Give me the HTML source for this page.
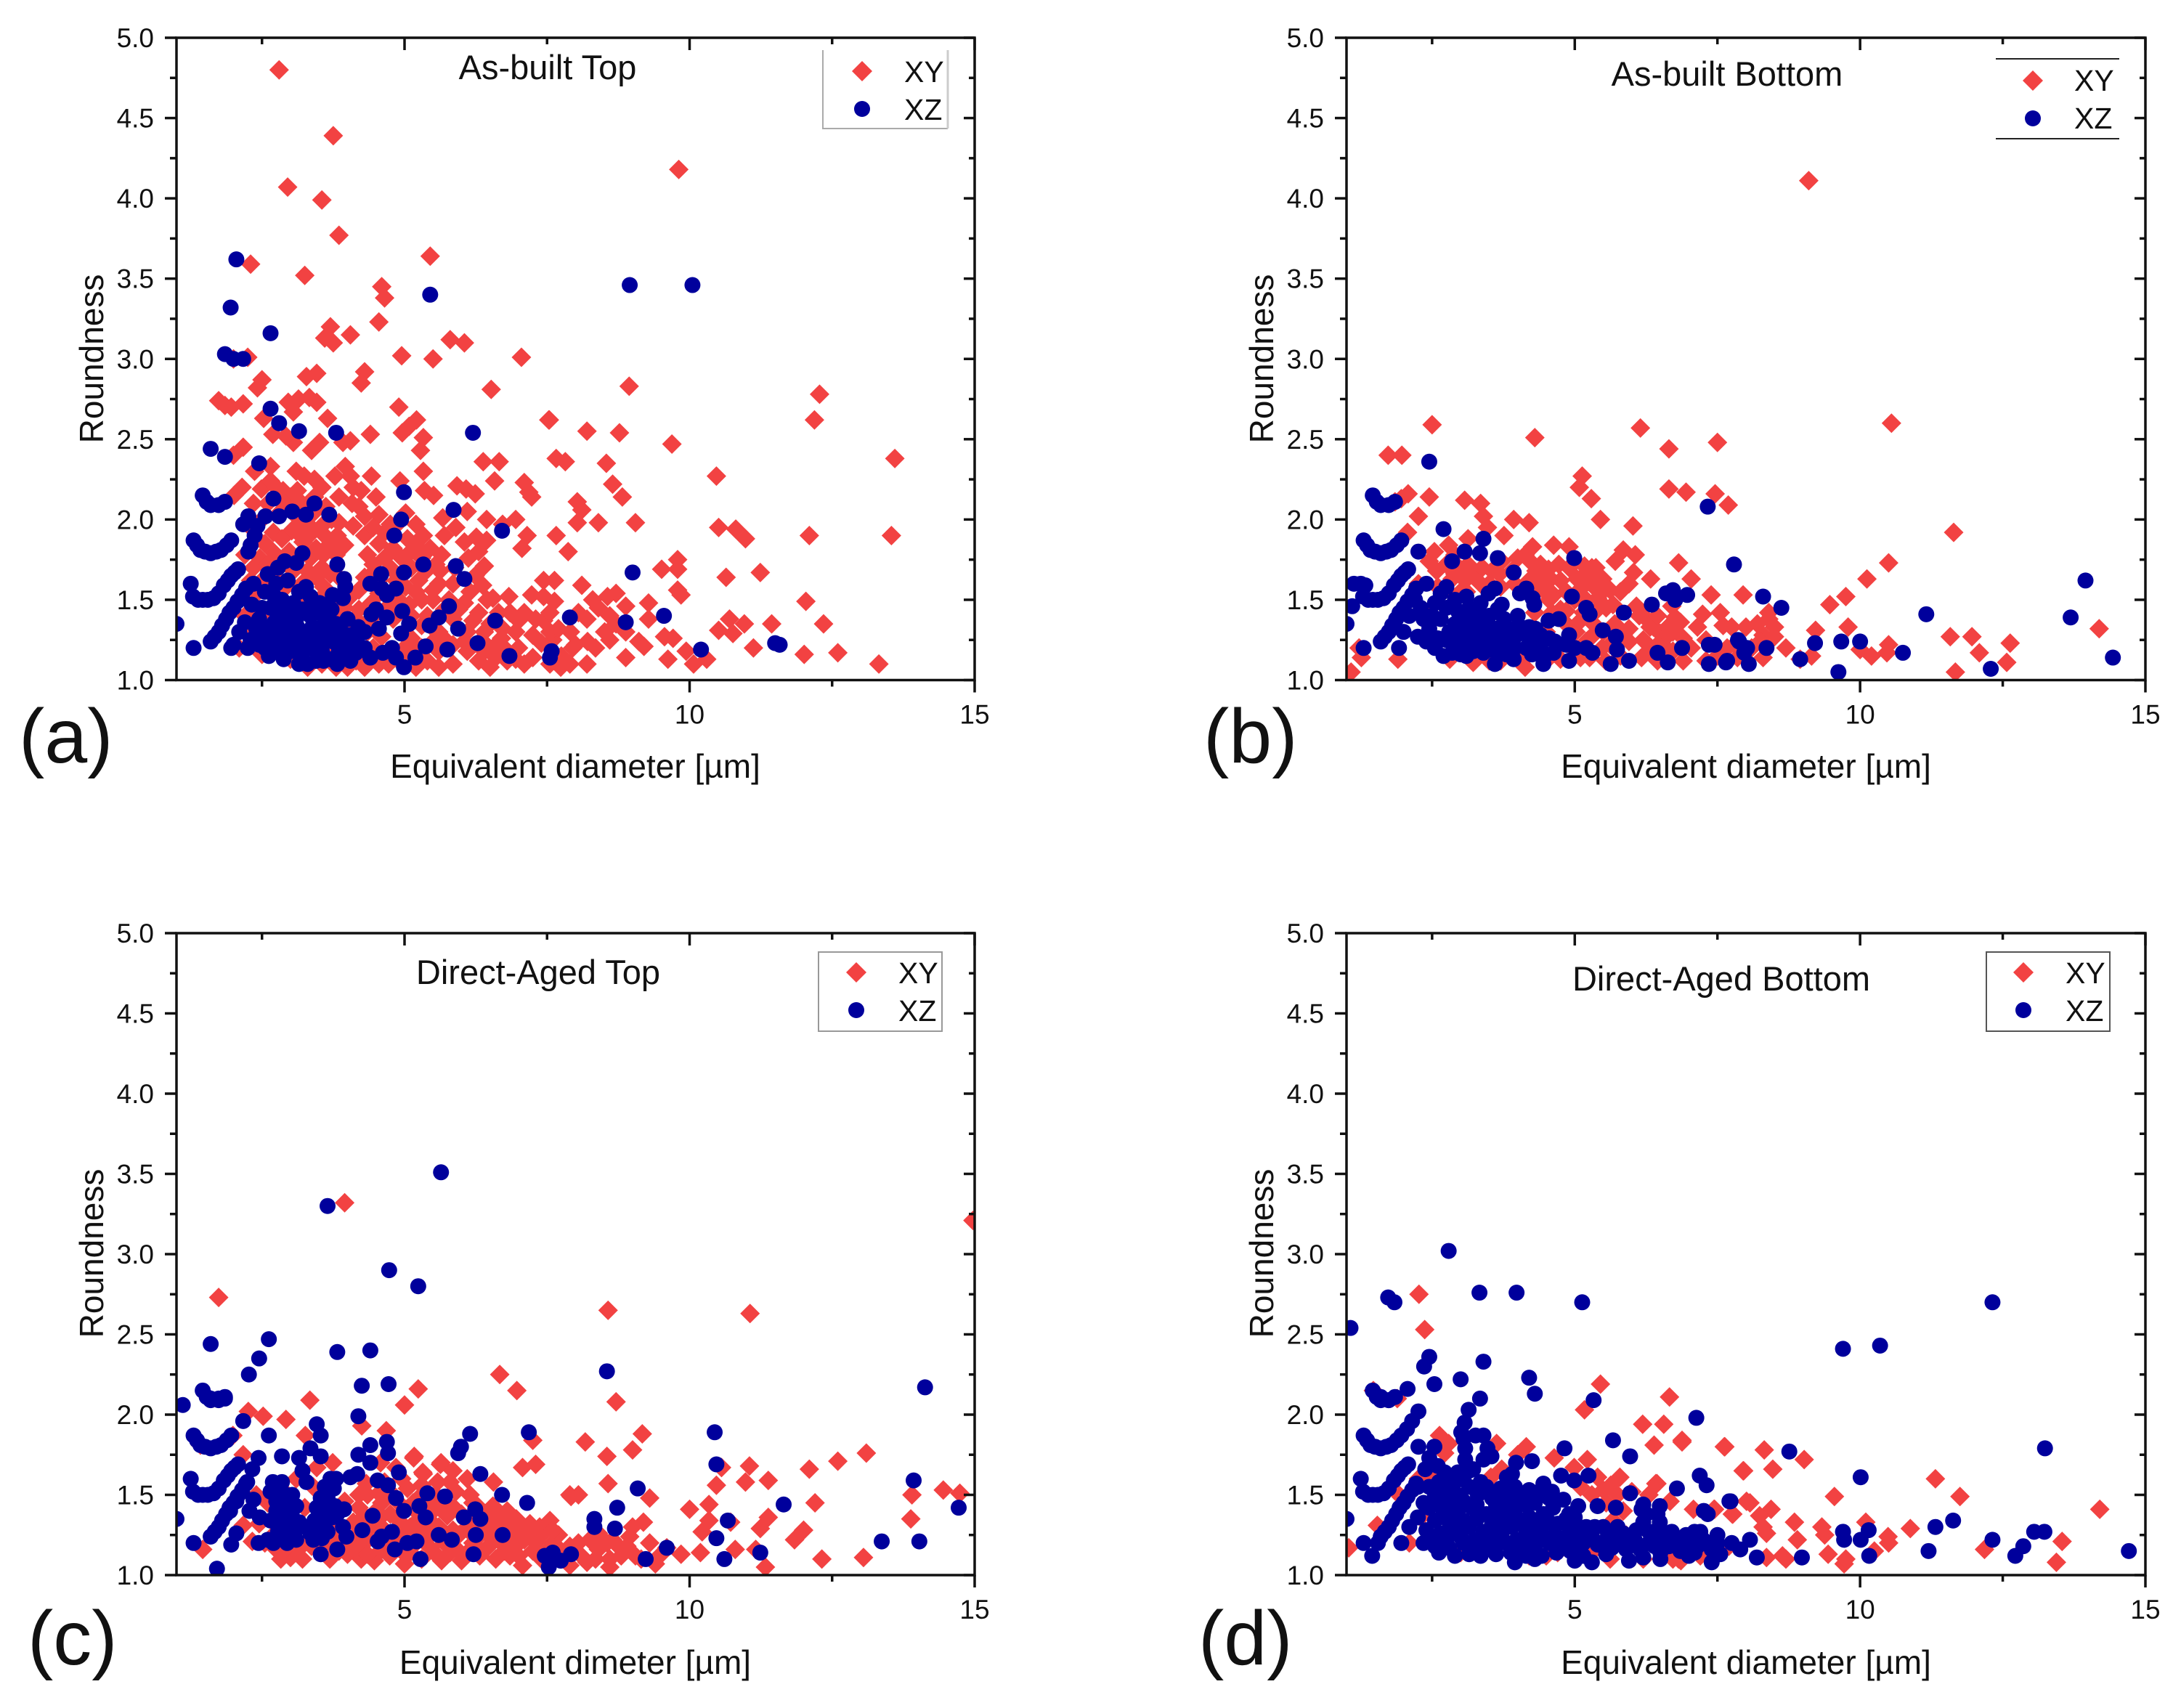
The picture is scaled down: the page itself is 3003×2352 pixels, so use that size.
<!DOCTYPE html>
<html lang="en">
<head>
<meta charset="utf-8">
<title>Roundness vs equivalent diameter</title>
<style>
html,body{margin:0;padding:0;background:#fff}
svg{display:block}
text{font-family:"Liberation Sans",sans-serif;fill:#111}
.title{font-size:47px;text-anchor:middle}
.axt{font-size:46px;text-anchor:middle}
.lg{font-size:41px}
.pl{font-size:106px}
.tk{font-size:37px}
</style>
</head>
<body>
<svg id="fig" xmlns="http://www.w3.org/2000/svg" width="3003" height="2352" viewBox="0 0 3003 2352">
<rect width="3003" height="2352" fill="#fff"/>
<defs>
<clipPath id="clip-a"><rect x="243" y="52" width="1099" height="884.5"/></clipPath>
<clipPath id="clip-b"><rect x="1854" y="52" width="1100" height="884.5"/></clipPath>
<clipPath id="clip-c"><rect x="243" y="1285" width="1099" height="884"/></clipPath>
<clipPath id="clip-d"><rect x="1854" y="1285" width="1100" height="884"/></clipPath>
</defs>
<g id="panel-a"></g>
<g id="panel-b"></g>
<g id="panel-c"></g>
<g id="panel-d"></g>

<text class="title" x="754" y="109">As-built Top</text>
<text class="title" x="2378" y="118">As-built Bottom</text>
<text class="title" x="741" y="1355">Direct-Aged Top</text>
<text class="title" x="2370" y="1364">Direct-Aged Bottom</text>

<text class="axt" x="792" y="1071">Equivalent diameter [µm]</text>
<text class="axt" x="2404" y="1071">Equivalent diameter [µm]</text>
<text class="axt" x="792" y="2305">Equivalent dimeter [µm]</text>
<text class="axt" x="2404" y="2305">Equivalent diameter [µm]</text>

<text class="axt" transform="translate(142,494) rotate(-90)">Roundness</text>
<text class="axt" transform="translate(1753,494) rotate(-90)">Roundness</text>
<text class="axt" transform="translate(142,1726) rotate(-90)">Roundness</text>
<text class="axt" transform="translate(1753,1726) rotate(-90)">Roundness</text>

<text class="pl" x="26" y="1050">(a)</text>
<text class="pl" x="1657" y="1050">(b)</text>
<text class="pl" x="38" y="2292">(c)</text>
<text class="pl" x="1650" y="2292">(d)</text>

<g>
<path d="M1133 69V177H1305" fill="none" stroke="#aaa" stroke-width="2"/>
<path d="M1305 69V177" fill="none" stroke="#ccc" stroke-width="3"/>
<path d="M1187 84l14 14l-14 14l-14-14z" fill="#f24242"/>
<circle cx="1187" cy="150" r="11" fill="#00009c"/>
<text class="lg" x="1245" y="113">XY</text>
<text class="lg" x="1245" y="165">XZ</text>
</g>
<g>
<path d="M2748 81H2918M2748 191H2918" fill="none" stroke="#222" stroke-width="2"/>
<path d="M2799 97l14 14l-14 14l-14-14z" fill="#f24242"/>
<circle cx="2799" cy="163" r="11" fill="#00009c"/>
<text class="lg" x="2856" y="125">XY</text>
<text class="lg" x="2856" y="177">XZ</text>
</g>
<g>
<rect x="1127" y="1311" width="170" height="109" fill="#fff" stroke="#999" stroke-width="2"/>
<path d="M1179 1325l14 14l-14 14l-14-14z" fill="#f24242"/>
<circle cx="1179" cy="1391" r="11" fill="#00009c"/>
<text class="lg" x="1237" y="1354">XY</text>
<text class="lg" x="1237" y="1406">XZ</text>
</g>
<g>
<rect x="2735" y="1311" width="170" height="109" fill="#fff" stroke="#555" stroke-width="2"/>
<path d="M2786 1325l14 14l-14 14l-14-14z" fill="#f24242"/>
<circle cx="2786" cy="1391" r="11" fill="#00009c"/>
<text class="lg" x="2844" y="1354">XY</text>
<text class="lg" x="2844" y="1406">XZ</text>
</g>
</svg>
<script>
// ---- axis labels ----
const xMajorTicks = [5, 10, 15];
const xMinorTicks = [2.5, 7.5, 12.5];
const yMajorTicks = [1.0, 1.5, 2.0, 2.5, 3.0, 3.5, 4.0, 4.5, 5.0];
const yMinorTicks = [1.25, 1.75, 2.25, 2.75, 3.25, 3.75, 4.25, 4.75];

// ---- low-diameter arcs of XZ points, common to every panel ----
const lowArcXZ = [[1.0,1.35],[1.25,1.6],[1.3,1.2],
[1.29,1.52],[1.38,1.5],[1.46,1.5],[1.55,1.5],[1.65,1.51],[1.74,1.54],[1.83,1.59],[1.9,1.62],[1.96,1.65],[2.02,1.67],[2.08,1.69],
[1.3,1.87],[1.36,1.84],[1.42,1.81],[1.5,1.8],[1.6,1.79],[1.7,1.8],[1.78,1.81],[1.88,1.84],[1.96,1.87],
[1.46,2.15],[1.53,2.11],[1.6,2.09],[1.74,2.09],[1.85,2.11],
[1.6,1.24],[1.67,1.27],[1.74,1.3],[1.8,1.34],[1.87,1.38],[1.93,1.42],[2.0,1.45],[2.07,1.49],[2.15,1.53],[2.22,1.57]];

// ---- panel (a) As-built Top ----
const topXY = [[2.8,4.8],[3.75,4.39],[2.95,4.07],[3.55,3.99],[3.85,3.77],[9.81,4.18],[5.45,3.64],[2.3,3.59],[3.25,3.52],[4.6,3.45],[4.65,3.38],[4.55,3.23],[3.7,3.2],[3.6,3.13],[3.75,3.1],[4.05,3.15],[5.8,3.12],[6.05,3.1],[5.5,3.0],[4.95,3.02],[7.05,3.01],[2.25,3.01],[2.0,3.0],
[8.94,2.83],[6.52,2.81],[12.28,2.78],[12.19,2.62],[13.6,2.38],[13.54,1.9],[12.1,1.9],[10.47,2.27],[10.51,1.95],[10.81,1.94],[10.98,1.88],[9.69,2.47],[8.77,2.54],[8.2,2.55],[7.54,2.62],[7.66,2.38],[7.82,2.36],[8.54,2.35],[8.65,2.22],[8.82,2.14],[9.05,1.98],[8.4,1.98],[8.03,2.11],[8.11,2.06],[8.03,1.98],[7.66,1.9],[7.87,1.8],[10.64,1.64],[11.24,1.67],[12.04,1.49],[12.35,1.35],[11.44,1.35],[10.96,1.35],[10.7,1.38],[10.51,1.31],[10.76,1.29],[11.12,1.2],[12.6,1.17],[12.01,1.16],[13.32,1.1],[9.79,1.75],[9.51,1.69],[9.79,1.69],[9.79,1.56],[9.85,1.53],[9.28,1.48],[9.28,1.38],[9.11,1.24],[9.2,1.21],[9.56,1.27],[9.71,1.26],[9.62,1.13],[9.94,1.18],[10.07,1.1],[10.3,1.13],[8.88,1.14],[8.2,1.1],[7.74,1.08],[8.21,1.24],[8.51,1.3],[7.91,1.3],[8.11,1.59],[8.56,1.52],[8.71,1.54],[8.88,1.46],[8.6,1.4],[8.71,1.35],[8.88,1.3],[7.63,1.62],[7.44,1.62],[7.23,1.53],[7.44,1.52],[7.63,1.49],[7.44,1.37],[7.4,1.23],[6.83,1.52],[6.55,1.51],[7.06,1.82],[7.15,1.9],[6.95,2.0],[6.72,1.97],[6.44,2.0],[6.38,2.36],[6.66,2.36],[6.58,2.24],[7.1,2.23],[7.18,2.17],[7.23,2.14],[8.05,1.42],[7.95,1.2],[7.6,1.25],[8.4,1.45],[8.2,1.38],[7.1,1.42],[7.25,1.28],[7.0,1.2],[7.25,1.14],[7.75,1.15],[7.55,1.3],
[2.5,2.87],[2.42,2.82],[3.28,2.89],[3.46,2.91],[4.3,2.92],[4.24,2.85],[1.74,2.74],[1.85,2.71],[1.96,2.7],[2.17,2.72],[2.96,2.73],[3.14,2.75],[3.33,2.76],[3.46,2.73],[3.05,2.67],[4.9,2.7],[5.21,2.62],[5.08,2.58],[4.96,2.54],[3.65,2.63],[2.53,2.63],[2.69,2.53],[3.05,2.48],[2.92,2.52],[3.51,2.48],[3.37,2.43],[4.05,2.49],[3.92,2.48],[4.4,2.53],[5.33,2.51],[5.28,2.43],[7.53,2.62],[2.17,2.45],[2.0,2.4],[2.37,2.3],[2.65,2.33],[2.15,2.2],[2.01,2.15],[2.49,2.19],[2.65,2.24],[2.87,2.18],[3.1,2.3],[3.24,2.27],[3.42,2.25],[3.78,2.27],[3.96,2.33],[4.05,2.27],[4.42,2.27],[4.24,2.18],[4.92,2.24],[5.33,2.3],[5.35,2.18],[5.51,2.15],[5.92,2.21],[6.08,2.19],[6.24,2.16],[6.1,2.05],[5.67,2.01],[6.05,1.86],[6.26,1.89],[6.44,1.87],[6.4,1.71],[6.24,1.65],[6.37,1.59],[5.33,1.9],[4.9,1.98],[5.02,2.04],[5.2,1.97],
[2.6,2.1],[2.8,2.04],[3.0,2.14],[3.2,2.1],[3.42,2.14],[3.62,2.08],[3.85,2.14],[4.08,2.1],[4.3,2.02],[4.55,2.03],[4.75,1.97],[3.85,1.98],[4.1,1.96],[3.55,1.96],[3.28,1.98],[3.02,1.93],[2.7,1.92],[2.42,1.88],[2.2,1.78],[2.46,1.76],[2.72,1.79],[2.98,1.8],[3.22,1.86],[3.45,1.82],[3.7,1.85],[3.95,1.84],[4.3,1.9],[4.55,1.85],[4.8,1.82],[5.05,1.78],[5.3,1.76],[5.55,1.72],[5.85,1.6],[5.6,1.6],[4.65,1.76],[4.35,1.78],[3.55,1.7],[3.3,1.68],[3.05,1.68],[2.8,1.62],[2.5,1.62],[2.3,1.62],[3.58,1.58],[3.85,1.64],[4.2,1.56],[4.45,1.67],[4.75,1.7],[5.02,1.58],[5.25,1.62],[5.5,1.5],[5.78,1.5],[6.05,1.48],[6.3,1.42],[6.5,1.35],[6.72,1.32],[6.95,1.3],[5.3,1.5],[5.08,1.47],[4.72,1.46],[4.42,1.48],[4.2,1.44],[3.95,1.45],[4.35,1.3],[4.6,1.27],[4.8,1.38],[5.12,1.26],[5.4,1.4],[5.6,1.3],[5.85,1.38],[6.1,1.3],[6.35,1.25],[6.55,1.2],[6.75,1.2],[5.3,1.2],[5.6,1.18],[5.85,1.22],[6.1,1.18],[6.3,1.12],[6.5,1.08],[6.8,1.12],[5.2,1.08],[5.6,1.08],[5.85,1.1],[5.4,1.12],[4.55,1.1],[4.3,1.08],[4.0,1.08],[3.55,1.1],[3.0,1.13],[2.5,1.16],[2.1,1.2],[2.3,1.32],[4.9,1.12],[4.45,1.2],[4.1,1.22],[3.75,1.4],[5.0,1.2]];
const topXYmass = [[2.35,2.1],[2.75,2.2],[3.12,2.18],[3.55,2.2],[4.1,2.2],[4.5,2.14],[2.5,2.0],[2.9,2.1],[3.1,2.02],[3.4,2.04],[3.72,2.0],[4.2,2.08],[4.65,1.92],[2.3,1.95],[2.55,1.85],[2.85,1.88],[3.12,1.92],[3.38,1.92],[3.6,1.9],[3.82,1.9],[4.45,1.95],[5.05,1.88],[2.35,1.7],[2.6,1.72],[2.85,1.72],[3.1,1.76],[3.35,1.76],[3.58,1.78],[3.8,1.78],[4.45,1.72],[4.55,1.62],[2.35,1.52],[2.62,1.56],[2.92,1.58],[3.2,1.6],[3.45,1.64],[3.7,1.66],[4.05,1.52],[4.3,1.64],[4.55,1.54],[4.85,1.62],[5.12,1.7],[5.38,1.68],[5.62,1.68],[5.88,1.7],[6.12,1.76],[6.3,1.8],[4.95,1.76],[5.2,1.84],[5.45,1.82],[5.7,1.9],[5.9,1.95],[5.65,1.78],[6.15,1.55],[6.45,1.5],[5.95,1.44],[5.7,1.44],[5.5,1.56],[5.2,1.55],[5.12,1.4],[5.3,1.34],[4.9,1.5],[4.62,1.42],[4.4,1.38],[4.15,1.38],[6.2,1.37],[6.4,1.3],[6.65,1.42],[6.85,1.42],[7.0,1.37],[6.7,1.26],[6.95,1.13],[6.6,1.14],[6.4,1.18],[6.05,1.24],[5.72,1.25],[5.5,1.24],[5.45,1.34],[5.2,1.2],[5.05,1.13],[4.72,1.1],[4.4,1.13],[4.15,1.12],[3.8,1.08],[3.3,1.08],[3.7,1.18],[3.4,1.2],[3.0,1.2],[2.6,1.24],[2.4,1.42],[2.2,1.4],[2.6,1.4],[2.9,1.44],[3.2,1.5],[3.5,1.5],[3.72,1.48],[4.0,1.34],[7.3,1.38],[7.55,1.42],[7.7,1.32],[7.1,1.1],[7.55,1.1],[7.9,1.1],[8.0,1.22],[8.3,1.5],[8.35,1.2],[8.6,1.25]];
const topXZ = [...lowArcXZ,[2.05,3.62],[1.95,3.32],[2.65,3.16],[1.85,3.03],[2.0,3.0],[2.17,3.0],[2.65,2.69],[2.8,2.6],[3.15,2.55],[3.8,2.54],[6.2,2.54],[5.45,3.4],[8.95,3.46],[10.05,3.46],[1.6,2.44],[1.85,2.39],[2.45,2.35],[2.7,2.13],[4.99,2.17],[5.86,2.06],[3.42,2.1],[3.68,2.03],[3.27,2.03],[3.03,2.05],[2.8,2.02],[2.56,2.02],[2.17,1.97],[2.26,2.02],[2.37,1.9],[2.3,1.84],[2.26,1.8],[2.42,1.96],[4.94,2.0],[4.82,1.9],[6.71,1.93],[5.33,1.72],[4.99,1.67],[5.9,1.71],[6.05,1.63],[3.82,1.72],[3.21,1.79],[4.59,1.66],[3.94,1.63],[3.96,1.58],[4.4,1.6],[4.6,1.57],[4.85,1.57],[4.69,1.53],[3.27,1.58],[3.92,1.51],[3.74,1.53],[3.51,1.48],[5.44,1.34],[5.6,1.39],[5.78,1.46],[5.94,1.32],[6.59,1.37],[6.28,1.23],[5.75,1.19],[6.84,1.15],[5.37,1.21],[5.19,1.14],[4.99,1.08],[4.85,1.14],[4.94,1.29],[4.96,1.43],[5.08,1.35],[4.55,1.32],[4.42,1.41],[4.69,1.39],[4.5,1.44],[4.19,1.33],[4.62,1.17],[4.78,1.2],[4.15,1.17],[4.17,1.23],[3.92,1.29],[7.58,1.18],[7.55,1.14],[7.9,1.39],[8.88,1.36],[9.0,1.67],[9.55,1.4],[10.2,1.19],[11.5,1.23],[11.58,1.22],
[2.9,1.74],[3.1,1.73],[2.6,1.66],[2.78,1.7],[2.35,1.6],[2.32,1.47],[2.55,1.55],[2.75,1.6],[2.95,1.62],[2.85,1.5],[3.05,1.48],[2.65,1.45],[2.45,1.38],[2.1,1.3],[2.2,1.36],[2.0,1.22],[2.3,1.25],[1.96,1.2],[2.25,1.2],[2.55,1.2],[2.75,1.18],[3.0,1.18],[3.2,1.15],[3.45,1.12],[3.15,1.1],[3.7,1.13],[3.95,1.15],[2.6,1.32],[2.85,1.36],[3.1,1.38],[3.35,1.4],[3.6,1.38],[3.8,1.35],[2.75,1.27],[3.0,1.28],[3.25,1.28],[3.5,1.26],[3.75,1.24],[4.0,1.22]];
const topXZmass = [[2.4,1.32],[2.5,1.26],[2.62,1.15],[2.88,1.13],[2.92,1.22],[3.12,1.22],[3.35,1.2],[3.55,1.18],[3.3,1.1],[3.58,1.12],[3.82,1.1],[3.85,1.18],[4.05,1.12],[3.12,1.33],[3.38,1.33],[3.62,1.31],[3.85,1.3],[2.72,1.36],[2.98,1.33],[3.22,1.44],[3.48,1.44],[3.72,1.44],[2.95,1.42],[2.72,1.52],[3.15,1.55],[3.35,1.52],[3.4,1.46],[2.5,1.45],[2.8,1.44],[2.85,1.27],[3.12,1.27],[3.38,1.26],[3.62,1.24],[3.88,1.24],[4.05,1.28],[4.0,1.38],[3.62,1.46],[4.3,1.2],[4.4,1.14],[4.3,1.3],[2.45,1.22],[2.65,1.26],[2.88,1.18]];

// ---- panel (b) As-built Bottom ----
const bottomXY = [[9.1,4.11],[2.5,2.59],[4.3,2.51],[6.15,2.57],[10.55,2.6],[6.65,2.44],[7.5,2.48],[1.73,2.4],[1.97,2.4],[5.13,2.27],[5.08,2.2],[5.29,2.13],[6.65,2.19],[6.95,2.17],[7.46,2.16],[7.69,2.09],[6.02,1.96],[5.45,2.0],[11.64,1.92],[10.5,1.73],[10.12,1.63],[9.75,1.52],[9.47,1.47],[9.79,1.33],[9.22,1.31],[14.19,1.32],[11.58,1.27],[11.96,1.27],[12.09,1.17],[12.63,1.23],[12.57,1.11],[11.67,1.05],[10.2,1.15],[10.47,1.17],[10.5,1.22],[10.0,1.19],[8.95,1.13],[8.7,1.2],[9.15,1.15],
[2.08,2.16],[1.85,2.11],[1.96,2.13],[2.45,2.14],[2.26,2.02],[2.07,1.92],[3.07,2.12],[3.35,2.1],[3.4,2.02],[3.47,1.95],[3.93,2.0],[4.2,1.98],[3.76,1.9],[3.13,1.88],[2.79,1.84],[2.54,1.8],[2.45,1.74],[2.58,1.68],[2.26,1.6],[3.13,1.72],[3.22,1.65],[3.0,1.69],[2.85,1.63],[3.08,1.62],[4.26,1.83],[4.13,1.78],[4.0,1.76],[4.22,1.74],[4.63,1.84],[4.9,1.83],[4.54,1.69],[4.72,1.72],[4.58,1.63],[4.45,1.56],[4.63,1.53],[5.17,1.71],[5.37,1.7],[5.04,1.63],[5.26,1.65],[5.49,1.63],[5.31,1.59],[5.54,1.57],[5.4,1.51],[5.67,1.47],[5.85,1.81],[6.06,1.78],[5.71,1.74],[6.03,1.67],[6.33,1.63],[6.82,1.73],[7.04,1.63],[7.39,1.53],[7.95,1.53],[7.24,1.41],[7.6,1.34],[7.15,1.33],[8.0,1.33],[6.08,1.46],[6.13,1.4],[5.95,1.32],[6.38,1.33],[6.5,1.29],[6.63,1.33],[6.76,1.39],[6.85,1.36],[6.17,1.14],[6.9,1.26],[7.04,1.2],[6.9,1.12],[7.67,1.2],[4.13,1.14],[4.13,1.08],[1.9,1.13],[1.22,1.2],[1.26,1.14],[1.08,1.05],[2.81,1.13],[3.22,1.11],[3.5,1.12],[5.26,1.14],[5.54,1.12],[6.6,1.2],[6.45,1.12],[5.0,1.5],[5.15,1.42],[5.3,1.36],[5.5,1.3],[5.62,1.22],[5.8,1.15],[4.85,1.43],[4.6,1.42],[5.02,1.3],[5.2,1.24],[4.85,1.35],[3.5,1.6],[3.7,1.58],[3.95,1.6],[4.2,1.62],[4.32,1.68],[3.9,1.68],[3.68,1.66],[3.38,1.7],[2.9,1.78],[8.2,1.35],[8.3,1.28],[8.4,1.42],[8.5,1.33],[8.5,1.27],[8.3,1.14],[7.3,1.25],[7.3,1.12],[7.75,1.33],[7.55,1.42],[8.1,1.2],[6.2,1.25],[3.0,1.55],[2.7,1.55],[2.45,1.42]];
const bottomXYmass = [[2.75,1.72],[2.6,1.58],[2.9,1.66],[3.1,1.55],[3.35,1.6],[3.55,1.68],[3.72,1.74],[4.35,1.58],[4.75,1.62],[4.85,1.55],[4.9,1.7],[4.75,1.44],[5.08,1.56],[5.2,1.5],[5.12,1.64],[5.4,1.44],[5.55,1.45],[5.3,1.7],[5.45,1.62],[5.62,1.56],[5.1,1.37],[5.32,1.28],[5.48,1.2],[5.7,1.35],[5.85,1.28],[5.95,1.24],[6.2,1.4],[6.32,1.33],[6.45,1.4],[6.58,1.26],[6.72,1.3],[6.72,1.18],[6.3,1.18],[6.45,1.22],[4.4,1.72],[4.45,1.64],[4.3,1.42],[4.5,1.3],[4.55,1.5],[4.95,1.2],[5.1,1.14],[4.75,1.13],[4.5,1.12],[3.7,1.12],[3.9,1.2],[7.8,1.22],[8.25,1.24],[8.4,1.38],[5.8,1.55],[5.95,1.6],[6.7,1.46],[7.5,1.15],[7.85,1.14]];
const bottomXZ = [...lowArcXZ,[1.13,1.6],[1.33,1.59],[1.1,1.46],[2.45,2.36],[2.7,1.94],[2.26,1.8],[2.85,1.74],[3.07,1.8],[3.34,1.79],[3.4,1.88],[3.65,1.76],[3.93,1.67],[4.99,1.76],[4.95,1.52],[7.33,2.08],[7.79,1.72],[6.35,1.47],[6.72,1.56],[6.6,1.54],[6.76,1.5],[6.97,1.53],[5.2,1.45],[5.26,1.41],[5.86,1.42],[5.49,1.31],[5.72,1.27],[5.74,1.19],[6.45,1.17],[6.63,1.11],[6.88,1.2],[7.35,1.22],[7.45,1.22],[7.35,1.1],[7.65,1.11],[7.88,1.24],[7.97,1.17],[5.63,1.1],[5.95,1.12],[5.31,1.17],[4.9,1.28],[4.9,1.12],[4.45,1.1],[4.72,1.38],[4.54,1.37],[4.31,1.32],[4.65,1.24],[4.63,1.17],[3.93,1.13],[3.6,1.1],[3.49,1.54],[3.6,1.57],[4.04,1.54],[4.15,1.57],[4.29,1.47],[4.26,1.51],[3.72,1.47],[4.0,1.4],[3.76,1.38],[4.2,1.33],[8.3,1.52],[8.62,1.45],[8.36,1.2],[7.86,1.25],[8.02,1.2],[7.67,1.12],[8.05,1.1],[8.95,1.13],[9.21,1.23],[9.67,1.24],[10.0,1.24],[9.62,1.05],[10.75,1.17],[11.16,1.41],[12.29,1.07],[13.69,1.39],[13.95,1.62],[14.43,1.14],
[2.4,1.6],[2.2,1.5],[2.1,1.4],[2.3,1.45],[2.0,1.3],[1.92,1.2],[2.75,1.58],[2.9,1.5],[3.1,1.52],[2.55,1.48],[2.65,1.38],[2.45,1.32],[2.25,1.27],[2.55,1.2],[2.75,1.25],[2.9,1.35],[3.1,1.38],[3.3,1.42],[3.5,1.4],[2.9,1.2],[3.1,1.22],[3.3,1.25],[3.55,1.25],[3.75,1.25],[3.95,1.27],[3.1,1.15],[3.4,1.17],[3.6,1.18],[3.3,1.32],[3.6,1.32],[4.4,1.2],[4.15,1.2],[4.4,1.28],[2.7,1.15],[2.4,1.24]];
const bottomXZmass = [[2.35,1.38],[2.5,1.4],[2.75,1.45],[2.95,1.43],[2.8,1.3],[3.0,1.3],[3.18,1.3],[2.6,1.26],[2.95,1.25],[3.15,1.28],[3.42,1.3],[3.2,1.35],[3.4,1.37],[3.65,1.44],[3.85,1.32],[3.95,1.2],[2.85,1.17],[3.0,1.16],[3.22,1.18],[3.75,1.19],[4.05,1.33],[4.2,1.26],[4.55,1.26],[4.25,1.16],[3.15,1.45],[3.35,1.48],[2.65,1.54],[3.8,1.16],[4.5,1.16],[5.0,1.2],[5.2,1.2],[4.85,1.22],[3.5,1.2]];

// ---- panel (c) Direct-Aged Top ----
const agedTopXY = [[3.95,3.32],[1.74,2.73],[8.57,2.65],[11.06,2.63],[14.97,3.21],[6.67,2.25],[6.97,2.15],[5.24,2.16],[5.0,2.06],[3.34,2.09],[2.26,2.02],[2.52,1.99],[2.92,1.97],[4.25,1.93],[4.68,1.9],[8.71,2.08],[9.17,1.88],[9.0,1.78],[8.17,1.83],[7.25,1.84],[8.55,1.74],[11.05,1.68],[10.56,1.67],[12.6,1.71],[13.1,1.76],[12.1,1.66],[11.38,1.59],[10.98,1.58],[10.47,1.56],[8.57,1.57],[9.3,1.48],[7.9,1.5],[8.05,1.5],[10.0,1.41],[10.34,1.44],[10.34,1.34],[10.72,1.33],[11.38,1.36],[11.24,1.29],[12.2,1.45],[12.0,1.28],[11.84,1.22],[12.32,1.1],[13.05,1.11],[11.33,1.05],[11.16,1.16],[10.8,1.16],[10.22,1.27],[10.19,1.14],[9.85,1.13],[13.9,1.5],[13.88,1.35],[14.45,1.53],[14.74,1.51],[9.19,1.33],[7.07,1.67],[7.3,1.69],[5.63,1.69],[5.16,1.73],[5.32,1.64],
[1.99,1.87],[1.42,1.81],[2.17,1.75],[3.74,1.7],[3.46,1.67],[3.26,1.87],[5.17,1.74],[4.58,1.7],[4.85,1.67],[5.33,1.63],[5.64,1.7],[5.85,1.65],[6.1,1.6],[5.58,1.58],[6.56,1.58],[7.92,1.49],[5.05,1.54],[4.33,1.57],[4.55,1.51],[5.87,1.42],[6.28,1.43],[6.55,1.43],[6.96,1.35],[7.55,1.34],[7.37,1.3],[7.19,1.25],[1.46,1.16],[2.17,1.31],[2.33,1.21],[2.83,1.1],[3.0,1.11],[3.21,1.1],[3.37,1.18],[3.69,1.1],[4.0,1.13],[4.24,1.1],[4.47,1.09],[4.74,1.12],[5.0,1.07],[5.3,1.1],[5.65,1.09],[6.0,1.09],[6.32,1.12],[6.6,1.1],[6.85,1.12],[7.07,1.06],[7.4,1.1],[7.9,1.06],[8.6,1.05],[8.6,1.1],[7.6,1.2],[7.25,1.15],[7.9,1.18],[8.1,1.12],[8.25,1.22],[8.4,1.16],[8.65,1.22],[8.9,1.18],[8.8,1.12],[9.0,1.3],[9.15,1.1],[9.3,1.2],[9.4,1.07],[9.6,1.17],[4.7,1.2],[4.95,1.15],[5.2,1.2],[5.45,1.17],[5.7,1.2],[5.95,1.15],[6.2,1.2],[6.45,1.17],[6.7,1.2],[6.95,1.18],[7.1,1.22],[7.05,1.3],[4.3,1.2],[4.0,1.22],[3.7,1.2],[3.4,1.26],[3.0,1.22],[2.7,1.25],[2.45,1.32],[3.55,1.3],[3.8,1.32],[4.1,1.33],[4.35,1.3],[4.6,1.3],[4.85,1.28],[5.1,1.3],[5.35,1.28],[5.6,1.3],[5.85,1.28],[6.1,1.3],[6.35,1.3],[6.6,1.3],[6.8,1.32],[4.5,1.4],[4.75,1.38],[5.0,1.4],[5.25,1.38],[5.5,1.4],[5.7,1.45],[6.0,1.38],[6.15,1.5],[6.4,1.38],[6.65,1.36],[4.2,1.42],[3.95,1.46],[4.35,1.5],[4.8,1.5],[5.3,1.5],[5.55,1.5],[5.9,1.52],[3.55,1.42],[3.25,1.42],[2.4,1.5],[2.6,1.45],[3.1,1.6],[3.4,1.55],[2.95,1.5]];
const agedTopXYmass = [[2.9,1.16],[3.15,1.17],[3.5,1.16],[3.85,1.15],[4.12,1.17],[4.35,1.13],[4.6,1.16],[4.85,1.18],[5.1,1.14],[5.35,1.22],[5.55,1.13],[5.8,1.14],[6.1,1.14],[6.3,1.24],[6.5,1.24],[6.75,1.15],[6.95,1.24],[6.6,1.33],[7.0,1.12],[7.3,1.2],[7.5,1.15],[7.7,1.25],[7.85,1.12],[8.05,1.2],[8.2,1.08],[8.4,1.26],[8.55,1.2],[8.75,1.18],[8.95,1.24],[4.2,1.26],[4.45,1.25],[4.7,1.26],[4.95,1.24],[5.2,1.25],[5.45,1.25],[5.7,1.25],[5.95,1.25],[6.2,1.25],[6.45,1.26],[6.85,1.26],[7.2,1.32],[7.4,1.25],[7.6,1.28],[4.3,1.37],[4.55,1.35],[4.9,1.34],[5.2,1.33],[5.45,1.34],[5.75,1.37],[6.15,1.36],[6.4,1.34],[6.8,1.4],[4.6,1.45],[4.9,1.45],[5.15,1.45],[5.4,1.45],[5.55,1.42],[5.3,1.56],[5.8,1.58],[6.2,1.45],[4.95,1.6],[4.65,1.58],[4.2,1.5],[3.55,1.22],[3.85,1.25],[3.25,1.2],[7.75,1.15],[8.35,1.1],[9.05,1.12],[9.5,1.13],[2.55,1.2],[2.75,1.16]];
const agedTopXZ = [...lowArcXZ,[1.11,2.06],[1.6,2.44],[2.62,2.47],[2.45,2.35],[2.27,2.25],[1.6,2.1],[1.74,2.1],[1.85,2.1],[3.82,2.39],[4.4,2.4],[4.25,2.18],[4.72,2.19],[5.24,2.8],[4.73,2.9],[3.65,3.3],[5.64,3.51],[2.17,1.96],[2.62,1.87],[4.19,1.99],[3.46,1.94],[3.53,1.87],[3.35,1.79],[3.53,1.74],[3.15,1.73],[2.85,1.74],[3.21,1.65],[3.28,1.58],[2.44,1.73],[2.33,1.66],[2.24,1.58],[2.15,1.52],[2.05,1.46],[1.94,1.4],[1.96,1.19],[2.05,1.26],[1.71,1.04],[4.4,1.81],[4.19,1.75],[4.4,1.7],[4.69,1.83],[4.71,1.76],[4.17,1.63],[4.05,1.61],[3.8,1.6],[3.76,1.54],[3.53,1.48],[3.65,1.48],[3.46,1.42],[3.42,1.34],[3.78,1.43],[3.94,1.41],[3.73,1.36],[3.92,1.3],[3.65,1.27],[3.4,1.22],[3.53,1.13],[3.82,1.16],[4.26,1.28],[4.44,1.37],[4.53,1.59],[4.71,1.56],[4.9,1.64],[4.85,1.48],[4.99,1.4],[5.26,1.43],[5.37,1.36],[5.4,1.51],[5.71,1.49],[6.15,1.88],[5.99,1.8],[5.94,1.76],[6.33,1.63],[6.71,1.5],[7.15,1.45],[7.18,1.89],[6.04,1.36],[6.24,1.41],[6.33,1.35],[6.25,1.25],[6.72,1.25],[6.21,1.13],[5.6,1.25],[5.83,1.22],[4.78,1.27],[4.6,1.24],[4.53,1.21],[5.21,1.21],[5.05,1.2],[4.83,1.16],[5.28,1.1],[7.46,1.12],[7.6,1.14],[7.92,1.13],[7.53,1.05],[7.74,1.09],[2.69,1.58],[2.85,1.58],[2.65,1.52],[2.85,1.52],[3.03,1.5],[2.35,1.47],[2.87,1.43],[3.1,1.43],[2.28,1.4],[2.46,1.36],[2.65,1.34],[2.92,1.37],[3.15,1.33],[2.78,1.27],[3.05,1.27],[2.44,1.2],[2.7,1.2],[2.94,1.2],[3.25,1.3],[3.35,1.26],[10.44,1.89],[10.47,1.69],[8.55,2.27],[14.13,2.17],[13.93,1.59],[14.72,1.42],[13.37,1.21],[14.03,1.21],[11.65,1.44],[11.24,1.14],[10.61,1.1],[10.47,1.23],[10.67,1.34],[9.6,1.17],[9.23,1.1],[9.09,1.54],[8.73,1.42],[8.69,1.29],[8.33,1.35],[8.33,1.3]];
const agedTopXZmass = [[2.75,1.46],[2.95,1.46],[2.75,1.4],[2.98,1.32],[3.02,1.38],[2.8,1.33],[2.85,1.24],[3.1,1.22],[2.6,1.22],[3.48,1.28],[3.55,1.36],[3.62,1.42],[3.6,1.55],[3.7,1.6],[3.6,1.32],[3.82,1.38],[3.98,1.24],[3.55,1.23]];

// ---- panel (d) Direct-Aged Bottom ----
const agedBottomXY = [[1.47,2.15],[1.89,2.1],[2.27,2.75],[2.37,2.53],[5.45,2.19],[5.17,2.03],[6.19,1.94],[6.56,1.94],[6.66,2.11],[6.39,1.81],[6.88,1.84],[7.62,1.8],[7.95,1.65],[6.42,1.57],[4.64,1.73],[4.15,1.8],[4.0,1.75],[3.63,1.82],[2.63,1.87],[2.79,1.82],[2.72,1.76],[5.22,1.72],[4.99,1.67],[5.79,1.61],[5.63,1.56],[5.4,1.61],[5.5,1.53],[6.67,1.46],[7.08,1.41],[7.44,1.41],[7.76,1.38],[8.01,1.46],[2.26,1.6],[1.92,1.5],[1.54,1.31],[1.04,1.17],[6.72,1.1],[6.86,1.09],[6.58,1.16],[5.67,1.34],[5.85,1.4],[5.9,1.25],[3.74,1.53],[3.53,1.61],[3.72,1.66],[14.2,1.41],[13.54,1.21],[13.44,1.08],[12.18,1.16],[11.75,1.49],[11.32,1.6],[10.88,1.29],[10.49,1.24],[10.5,1.2],[10.1,1.33],[9.55,1.49],[9.33,1.3],[9.38,1.25],[9.44,1.13],[9.72,1.07],[9.75,1.1],[9.02,1.72],[8.47,1.66],[8.32,1.78],[7.96,1.65],[7.63,1.8],[6.88,1.83],[8.85,1.33],[8.07,1.45],[8.44,1.41],[8.24,1.37],[8.36,1.26],[8.3,1.3],[7.77,1.38],[7.45,1.41],[6.44,1.57],[8.64,1.12],[8.36,1.11],[6.82,1.1],[5.62,1.1],[5.3,1.5],[5.1,1.55],[5.55,1.45],[5.75,1.5],[5.6,1.2],[6.0,1.52],[6.3,1.5],[6.1,1.18],[6.2,1.1],[7.0,1.18],[7.2,1.12],[7.45,1.13],[7.7,1.18],[8.7,1.1],[8.9,1.22],[10.25,1.15],[2.5,1.62],[2.3,1.36],[2.1,1.2],[2.6,1.18],[4.5,1.12],[4.7,1.14],[4.2,1.12],[3.0,1.14],[5.3,1.14],[5.0,1.12]];
const agedBottomXZ = [...lowArcXZ,[2.79,3.02],[3.33,2.76],[3.98,2.76],[5.13,2.7],[12.32,2.7],[9.7,2.41],[10.35,2.43],[1.07,2.54],[1.73,2.73],[1.84,2.7],[13.24,1.79],[7.13,1.98],[8.76,1.77],[10.01,1.61],[11.63,1.34],[11.32,1.3],[12.32,1.22],[13.05,1.27],[13.23,1.27],[12.86,1.18],[12.72,1.12],[11.2,1.15],[14.71,1.15],[9.7,1.27],[9.72,1.22],[10.01,1.22],[10.15,1.28],[10.16,1.12],[8.98,1.11],[8.19,1.11],[8.07,1.22],[7.73,1.46],
[2.45,2.36],[2.36,2.3],[2.54,2.19],[3.0,2.22],[3.4,2.33],[4.2,2.23],[4.3,2.13],[5.33,2.09],[2.07,2.16],[1.6,2.11],[1.74,2.09],[2.26,2.02],[2.15,1.96],[2.06,1.91],[3.34,2.1],[3.14,2.03],[3.07,1.95],[3.01,1.89],[3.26,1.87],[3.4,1.87],[3.47,1.79],[3.54,1.74],[5.67,1.84],[5.97,1.74],[4.82,1.79],[4.25,1.71],[3.97,1.7],[3.9,1.63],[3.81,1.61],[3.08,1.79],[3.08,1.72],[2.95,1.64],[3.22,1.66],[2.26,1.8],[2.54,1.8],[2.45,1.73],[2.6,1.68],[2.38,1.66],[2.67,1.59],[5.24,1.62],[4.76,1.62],[4.99,1.59],[4.45,1.57],[4.2,1.53],[7.19,1.62],[7.31,1.56],[6.79,1.54],[5.97,1.51],[7.71,1.46],[5.72,1.42],[5.4,1.43],[5.06,1.43],[7.26,1.4],[7.33,1.38],[6.49,1.43],[6.17,1.41],[6.2,1.33],[6.49,1.33],[6.25,1.38],[6.45,1.38],
[2.25,1.55],[2.35,1.45],[2.25,1.36],[2.1,1.3],[1.96,1.2],[2.45,1.55],[2.7,1.5],[2.95,1.5],[3.15,1.55],[3.3,1.5],[3.55,1.48],[3.8,1.5],[4.05,1.5],[4.3,1.45],[4.55,1.48],[4.8,1.47],[4.9,1.38],[4.7,1.32],[2.45,1.42],[2.7,1.38],[2.95,1.4],[3.2,1.42],[3.45,1.38],[3.7,1.4],[3.95,1.4],[4.2,1.36],[4.45,1.38],[2.4,1.28],[2.65,1.26],[2.9,1.28],[3.15,1.3],[3.4,1.27],[3.65,1.28],[3.9,1.3],[4.15,1.26],[4.4,1.28],[4.65,1.25],[4.9,1.26],[2.35,1.2],[2.55,1.18],[2.8,1.17],[3.05,1.2],[3.3,1.17],[3.55,1.18],[3.8,1.2],[4.05,1.16],[4.3,1.18],[4.55,1.2],[4.8,1.17],[5.05,1.2],[5.3,1.24],[5.55,1.22],[5.8,1.2],[6.05,1.22],[6.3,1.2],[6.5,1.25],[6.75,1.22],[7.0,1.2],[7.25,1.22],[7.5,1.2],[7.75,1.2],[7.9,1.16],[7.1,1.27],[6.5,1.14],[6.2,1.11],[5.95,1.09],[6.5,1.1],[5.55,1.13],[5.3,1.08],[5.0,1.09],[5.15,1.12],[4.3,1.1],[3.95,1.08],[3.35,1.12],[2.9,1.12],[7.1,1.14],[7.4,1.08],[7.55,1.13],[1.45,1.12],[1.55,1.2],[5.5,1.3],[5.75,1.3],[5.2,1.3],[5.0,1.36],[7.0,1.12],[6.85,1.15]];
const agedBottomXZmass = [[2.55,1.5],[2.8,1.55],[2.6,1.44],[2.82,1.44],[3.05,1.46],[3.28,1.44],[2.55,1.34],[2.8,1.33],[3.05,1.34],[3.28,1.35],[3.55,1.33],[3.8,1.35],[4.05,1.33],[4.3,1.32],[4.55,1.33],[3.62,1.44],[3.88,1.45],[4.12,1.44],[4.38,1.52],[4.62,1.42],[2.5,1.23],[2.75,1.22],[3.0,1.24],[3.25,1.22],[3.5,1.23],[3.72,1.24],[3.98,1.22],[4.22,1.22],[4.48,1.23],[4.72,1.2],[4.95,1.22],[5.15,1.2],[5.4,1.19],[5.65,1.17],[5.9,1.16],[6.15,1.16],[6.4,1.18],[6.65,1.18],[6.9,1.18],[7.15,1.18],[7.4,1.16],[2.62,1.14],[3.15,1.13],[3.62,1.13],[3.88,1.14],[4.15,1.12],[4.42,1.12],[4.68,1.14],[4.92,1.15],[5.12,1.26],[5.35,1.3],[5.62,1.26],[5.85,1.26],[6.08,1.28],[6.3,1.27],[6.2,1.44],[6.48,1.3],[6.7,1.27],[6.95,1.25],[7.2,1.27],[7.5,1.25],[5.0,1.3],[4.85,1.35],[4.6,1.52],[2.72,1.64],[2.9,1.58],[3.05,1.6],[3.35,1.58],[3.05,1.85],[3.4,1.72],[3.15,1.65],[3.45,1.55],[2.62,1.58],[3.7,1.54],[3.95,1.55]];

// ---- drawing ----
const svgNS = 'http://www.w3.org/2000/svg';
const RED = '#f24242';
const BLUE = '#00009c';
const INK = '#111';

function makeX(p){ return v => p.L + (v - 1) / 14 * (p.R - p.L); }
function makeY(p){ return v => p.B - (v - 1) / 4 * (p.B - p.T); }

function drawPanel(p, xySeries, xzSeries){
  const host = document.getElementById('panel-' + p.id);
  const sx = makeX(p);
  const sy = makeY(p);

  const marks = document.createElementNS(svgNS, 'g');
  marks.setAttribute('clip-path', 'url(#clip-' + p.id + ')');
  
  
  host.appendChild(marks);

  xySeries.forEach(d => {
    const x = sx(d[0]), y = sy(d[1]);
    const el = document.createElementNS(svgNS, 'path');
    el.setAttribute('d', 'M' + x + ' ' + (y - 13.5) + 'L' + (x + 13.5) + ' ' + y + 'L' + x + ' ' + (y + 13.5) + 'L' + (x - 13.5) + ' ' + y + 'Z');
    el.setAttribute('fill', RED);
    
    
    marks.appendChild(el);
  });
  xzSeries.forEach(d => {
    const el = document.createElementNS(svgNS, 'circle');
    el.setAttribute('cx', sx(d[0]));
    el.setAttribute('cy', sy(d[1]));
    el.setAttribute('r', 11);
    el.setAttribute('fill', BLUE);
    
    
    marks.appendChild(el);
  });

  const frame = document.createElementNS(svgNS, 'rect');
  frame.setAttribute('x', p.L);
  frame.setAttribute('y', p.T);
  frame.setAttribute('width', p.R - p.L);
  frame.setAttribute('height', p.B - p.T);
  frame.setAttribute('fill', 'none');
  frame.setAttribute('stroke', INK);
  frame.setAttribute('stroke-width', 3.5);
  
  
  host.appendChild(frame);

  const line = (x1, y1, x2, y2) => {
    const t = document.createElementNS(svgNS, 'line');
    t.setAttribute('x1', x1);
    t.setAttribute('y1', y1);
    t.setAttribute('x2', x2);
    t.setAttribute('y2', y2);
    t.setAttribute('stroke', INK);
    t.setAttribute('stroke-width', 3.5);
    
    
    host.appendChild(t);
  };

  xMajorTicks.forEach(v => {
    line(sx(v), p.B, sx(v), p.B + 17);
    line(sx(v), p.T, sx(v), p.T + 17);
    const t = document.createElementNS(svgNS, 'text');
    t.setAttribute('x', sx(v));
    t.setAttribute('y', p.B + 60);
    t.setAttribute('text-anchor', 'middle');
    t.setAttribute('class', 'tk');
    
    
    t.textContent = String(v);
    host.appendChild(t);
  });
  xMinorTicks.forEach(v => {
    line(sx(v), p.B, sx(v), p.B + 9);
    line(sx(v), p.T, sx(v), p.T + 9);
  });
  yMajorTicks.forEach(v => {
    line(p.L - 16, sy(v), p.L, sy(v));
    line(p.R - 15, sy(v), p.R, sy(v));
    const t = document.createElementNS(svgNS, 'text');
    t.setAttribute('x', p.L - 31);
    t.setAttribute('y', sy(v) + 13);
    t.setAttribute('text-anchor', 'end');
    t.setAttribute('class', 'tk');
    
    
    t.textContent = v.toFixed(1);
    host.appendChild(t);
  });
  yMinorTicks.forEach(v => {
    line(p.L - 9, sy(v), p.L, sy(v));
    line(p.R - 8, sy(v), p.R, sy(v));
  });
}

drawPanel({id:'a', L:243, R:1342, T:52, B:936.5}, [...topXY, ...topXYmass], [...topXZ, ...topXZmass]);
drawPanel({id:'b', L:1854, R:2954, T:52, B:936.5}, [...bottomXY, ...bottomXYmass], [...bottomXZ, ...bottomXZmass]);
drawPanel({id:'c', L:243, R:1342, T:1285, B:2169}, [...agedTopXY, ...agedTopXYmass], [...agedTopXZ, ...agedTopXZmass]);
drawPanel({id:'d', L:1854, R:2954, T:1285, B:2169}, agedBottomXY, [...agedBottomXZ, ...agedBottomXZmass]);
</script>
</body>
</html>
